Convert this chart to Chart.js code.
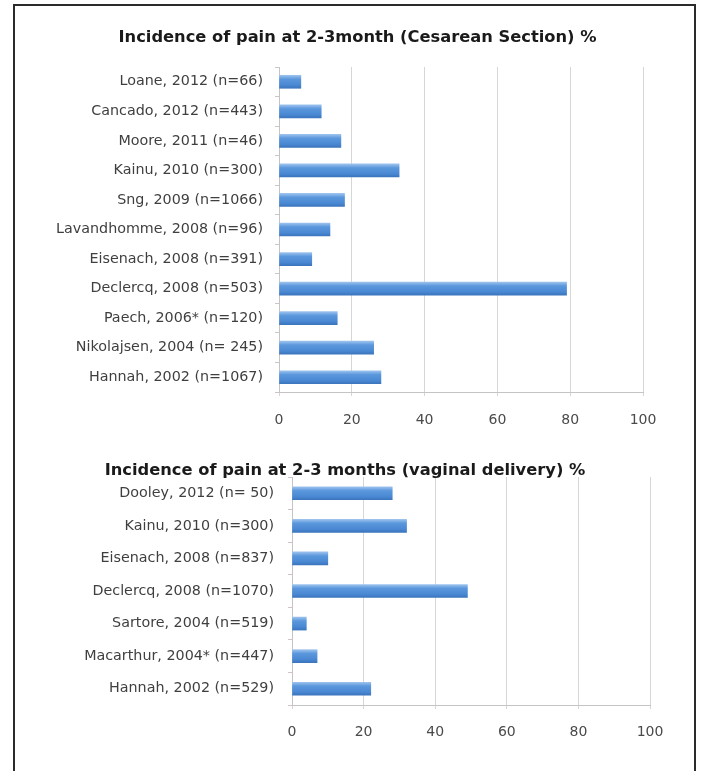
<!DOCTYPE html>
<html>
<head>
<meta charset="utf-8">
<script src="https://cdn.jsdelivr.net/npm/chart.js@4"></script>
<style>
  html, body { margin: 0; padding: 0; background: #fff; }
  #page { position: relative; width: 701px; height: 771px; overflow: hidden; background: #fff; }
  #frame { position: absolute; left: 13px; top: 4px; width: 683px; height: 820px; border: 2px solid #2b2b2b; box-sizing: border-box; }
  canvas { position: absolute; left: 0; }
  #cs { top: 0; }
  #vd { top: 440px; }
</style>
</head>
<body>
<div id="page">
  <div id="frame"></div>
  <canvas id="cs" width="701" height="440"></canvas>
  <canvas id="vd" width="701" height="331"></canvas>
</div>
<script>
// Cesarean section studies (top to bottom)
const csStudies = [
  'Loane, 2012 (n=66)',
  'Cancado, 2012 (n=443)',
  'Moore, 2011 (n=46)',
  'Kainu, 2010 (n=300)',
  'Sng, 2009 (n=1066)',
  'Lavandhomme, 2008 (n=96)',
  'Eisenach, 2008 (n=391)',
  'Declercq, 2008 (n=503)',
  'Paech, 2006* (n=120)',
  'Nikolajsen, 2004 (n= 245)',
  'Hannah, 2002 (n=1067)'
];
const csPain = [6, 11.6, 17, 33, 18, 14, 9, 79, 16, 26, 28];

// Vaginal delivery studies (top to bottom)
const vdStudies = [
  'Dooley, 2012 (n= 50)',
  'Kainu, 2010 (n=300)',
  'Eisenach, 2008 (n=837)',
  'Declercq, 2008 (n=1070)',
  'Sartore, 2004 (n=519)',
  'Macarthur, 2004* (n=447)',
  'Hannah, 2002 (n=529)'
];
const vdPain = [28, 32, 10, 49, 4, 7, 22];

const xTicks = [0, 20, 40, 60, 80, 100];

const csTitle = 'Incidence of pain at 2-3month (Cesarean Section) %';
const vdTitle = 'Incidence of pain at 2-3 months (vaginal delivery) %';

const BAR_H = 13;

// Glossy blue fill, lighter along the top edge of each bar
function barFill(c) {
  const chart = c.chart;
  const sy = chart.scales && chart.scales.y;
  const y = sy ? sy.getPixelForValue(c.dataIndex) : NaN;
  if (!isFinite(y)) return '#4f8ed8';
  const g = chart.ctx.createLinearGradient(0, y - BAR_H / 2, 0, y + BAR_H / 2);
  g.addColorStop(0, '#9cc2ee');
  g.addColorStop(0.3, '#5a97dc');
  g.addColorStop(0.75, '#4a88d3');
  g.addColorStop(1, '#3b75bd');
  return g;
}

// Panel heading, placed freely above the plot
const panelTitle = {
  id: 'panelTitle',
  afterDraw(chart, args, opts) {
    const ctx = chart.ctx;
    ctx.save();
    ctx.font = 'bold ' + opts.size + 'px "DejaVu Sans", sans-serif';
    ctx.fillStyle = '#1a1a1a';
    ctx.textAlign = 'center';
    ctx.textBaseline = 'middle';
    ctx.fillText(opts.text, opts.x, opts.y);
    ctx.restore();
  }
};

function makeChart(id, labels, values, title, L) {
  return new Chart(document.getElementById(id), {
    type: 'bar',
    plugins: [panelTitle],
    data: {
      labels: labels,
      datasets: [{
        data: values,
        backgroundColor: barFill,
        borderWidth: 0,
        barThickness: BAR_H
      }]
    },
    options: {
      indexAxis: 'y',
      responsive: false,
      animation: false,
      events: [],
      layout: { padding: { left: 0, right: L.padRight, top: L.padTop, bottom: 0 } },
      plugins: {
        legend: { display: false },
        tooltip: { enabled: false },
        title: { display: false },
        panelTitle: { text: title, x: L.titleX, y: L.titleY, size: 16.3 }
      },
      scales: {
        x: {
          min: 0,
          max: 100,
          afterBuildTicks: (s) => { s.ticks = xTicks.map(v => ({ value: v })); },
          afterFit: (s) => { s.height = L.xHeight; },
          grid: { color: '#d6d6d6', lineWidth: 1, tickLength: 4, drawTicks: true },
          border: { color: '#c4c4c4', width: 1 },
          ticks: {
            color: '#4a4a4a',
            padding: L.xPad,
            font: { family: '"DejaVu Sans", sans-serif', size: 14 }
          }
        },
        y: {
          afterFit: (s) => { s.width = L.yWidth; },
          grid: { drawOnChartArea: false, drawTicks: true, tickLength: 4, color: '#d0c4c4', offset: true },
          border: { color: '#c4c4c4', width: 1 },
          ticks: {
            color: '#3f3f3f',
            padding: L.yPad,
            font: { family: '"DejaVu Sans", sans-serif', size: 14.3 }
          }
        }
      }
    }
  });
}

makeChart('cs', csStudies, csPain, csTitle, {
  padRight: 58, padTop: 67, yWidth: 279,
  titleX: 357.5, titleY: 38,
  xHeight: 48, xPad: 16, yPad: 12
});

makeChart('vd', vdStudies, vdPain, vdTitle, {
  padRight: 51, padTop: 37, yWidth: 292,
  titleX: 345, titleY: 31,
  xHeight: 66, xPad: 15, yPad: 14
});
</script>
</body>
</html>
